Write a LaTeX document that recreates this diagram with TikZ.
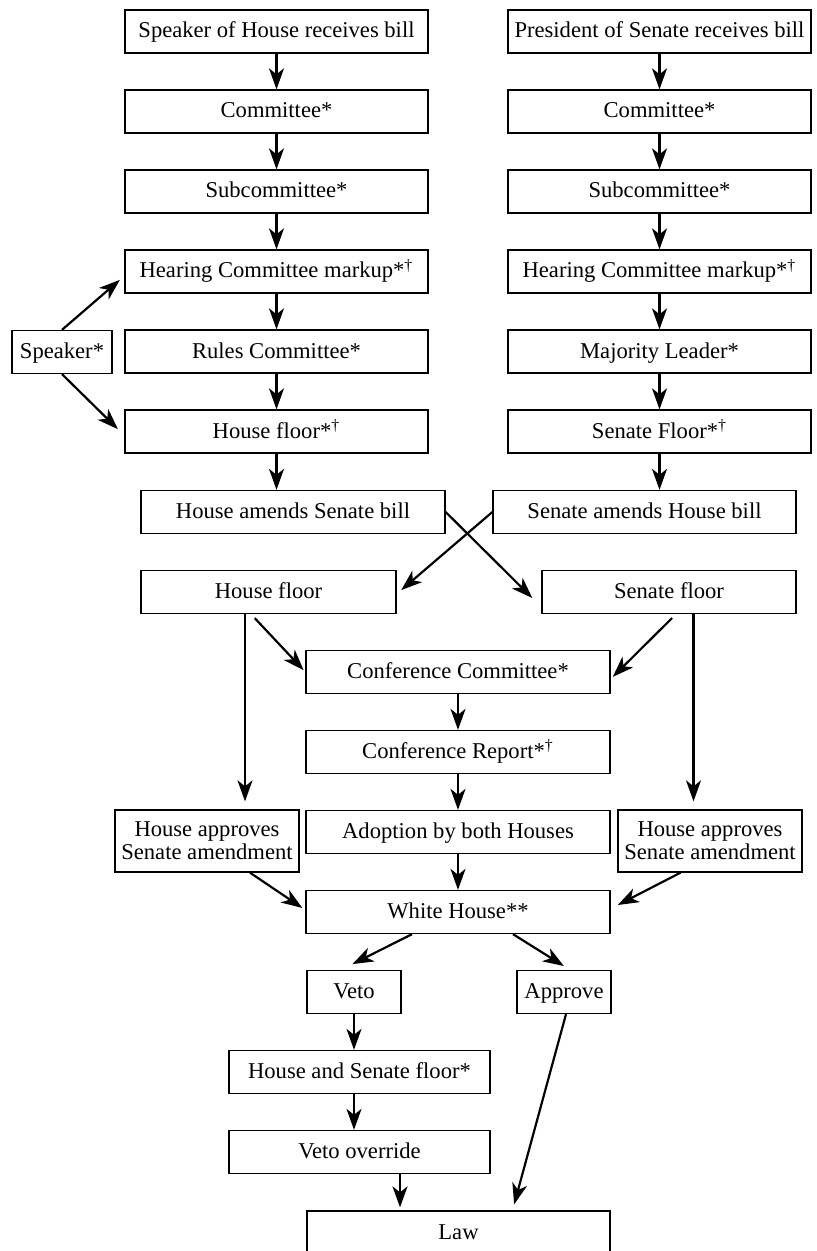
\documentclass[tikz,border=0pt]{standalone}
\usepackage{fontspec}
\setmainfont{Liberation Serif}
\usetikzlibrary{arrows.meta}

\begin{document}
\begin{tikzpicture}[x=0.5pt,y=-0.5pt,
  box/.style={draw,line width=0.65pt,minimum height=21.5pt,inner sep=0pt,
    align=center,text height=9pt,text depth=2.5pt,font=\fontsize{11.3}{11.7}\selectfont},
  twoline/.style={box,minimum width=92pt,minimum height=31pt,text height=,text depth=},
  arr/.style={-{Stealth[length=10.5pt,width=7.5pt,inset=3pt]},line width=1.1pt}]
  \useasboundingbox (0,0) rectangle (817,1251);
  \clip (0,0) rectangle (817,1251);

  % House side
  \node[box,minimum width=151.5pt] (hrecv) at (276.5,31.5) {Speaker of House receives bill};
  \node[box,minimum width=151.5pt] (hcom) at (276.5,111.5) {Committee*};
  \node[box,minimum width=151.5pt] (hsub) at (276.5,191.5) {Subcommittee*};
  \node[box,minimum width=151.5pt] (hhear) at (276.5,271.5) {Hearing Committee markup*\textsuperscript{\textdagger}};
  \node[box,minimum width=151.5pt] (hrules) at (276.5,351.5) {Rules Committee*};
  \node[box,minimum width=151.5pt] (hfloor) at (276.5,431.5) {House floor*\textsuperscript{\textdagger}};
  \node[box,minimum width=50pt] (spk) at (62,352) {Speaker*};

  % Senate side
  \node[box,minimum width=151.5pt] (srecv) at (659.5,31.5) {President of Senate receives bill};
  \node[box,minimum width=151.5pt] (scom) at (659.5,111.5) {Committee*};
  \node[box,minimum width=151.5pt] (ssub) at (659.5,191.5) {Subcommittee*};
  \node[box,minimum width=151.5pt] (shear) at (659.5,271.5) {Hearing Committee markup*\textsuperscript{\textdagger}};
  \node[box,minimum width=151.5pt] (smaj) at (659.5,351.5) {Majority Leader*};
  \node[box,minimum width=151.5pt] (sfloor) at (659.5,431.5) {Senate Floor*\textsuperscript{\textdagger}};

  % amendments
  \node[box,minimum width=152pt] (hamend) at (293,512) {House amends Senate bill};
  \node[box,minimum width=151.5pt] (samend) at (644.5,512) {Senate amends House bill};
  \node[box,minimum width=127.5pt] (hfl2) at (268.5,592) {House floor};
  \node[box,minimum width=127pt] (sfl2) at (669,592) {Senate floor};

  % conference
  \node[box,minimum width=152pt] (conf) at (458,672) {Conference Committee*};
  \node[box,minimum width=152pt] (report) at (458,752) {Conference Report*\textsuperscript{\textdagger}};
  \node[box,minimum width=152pt] (adopt) at (458,832) {Adoption by both Houses};
  \node[twoline] (happ) at (207,841) {House approves\\Senate amendment};
  \node[twoline] (sapp) at (710,841) {House approves\\Senate amendment};
  \node[box,minimum width=152pt] (wh) at (458,912) {White House**};

  % president
  \node[box,minimum width=47pt] (veto) at (354,992) {Veto};
  \node[box,minimum width=47pt] (appr) at (564,992) {Approve};
  \node[box,minimum width=130.5pt] (both) at (359.5,1072) {House and Senate floor*};
  \node[box,minimum width=130.5pt] (override) at (359.5,1152) {Veto override};
  \node[box,minimum width=151.5pt] (law) at (458.5,1232.5) {Law};

  \foreach \a/\b in {hrecv/hcom,hcom/hsub,hsub/hhear,hhear/hrules,hrules/hfloor,
    srecv/scom,scom/ssub,ssub/shear,shear/smaj,smaj/sfloor,
    conf/report,report/adopt,adopt/wh}
    \draw[arr] (\a) -- (\b);

  \draw[arr,shorten >=3pt] (spk.north) -- ([yshift=-2.25pt]hhear.west);
  \draw[arr,shorten >=4.5pt] (spk.south) -- ([yshift=-2pt]hfloor.west);

  \draw[arr] (hfloor.south) -- (hfloor.south |- hamend.north);
  \draw[arr] (sfloor.south) -- (sfloor.south |- samend.north);
  \draw[arr,shorten >=6.4pt] (hamend.east) -- ([yshift=-7.5pt]sfl2.west);
  \draw[arr,shorten >=3pt] (samend.west) -- ([yshift=-1pt]hfl2.east);

  \coordinate (hdrop) at ([xshift=-11.75pt]hfl2.south);
  \coordinate (sdrop) at ([xshift=12.25pt]sfl2.south);
  \draw[arr,shorten >=4pt] (hdrop) -- (hdrop |- happ.north);
  \draw[arr,shorten >=4pt] (sdrop) -- (sdrop |- sapp.north);
  \draw[arr,shorten <=2.75pt,shorten >=1.25pt] ([xshift=-8.75pt]hfl2.south) -- (conf.west);
  \draw[arr,shorten <=2.75pt,shorten >=1.5pt] ([xshift=3.5pt]sfl2.south) -- ([yshift=-3.5pt]conf.east);

  \draw[arr,shorten >=1.8pt] ([xshift=21.5pt]happ.south) -- ([yshift=1pt]wh.west);
  \draw[arr,shorten >=4pt] ([xshift=-14.75pt]sapp.south) -- ([yshift=1.65pt]wh.east);

  \draw[arr,shorten >=6.4pt] ([xshift=-23pt]wh.south) -- ([xshift=-6.5pt]veto.north);
  \draw[arr,shorten >=3.6pt] ([xshift=27.5pt]wh.south) -- ([xshift=3pt]appr.north);
  \draw[arr] (veto.south) -- (veto.south |- both.north);
  \draw[arr] (veto.south |- both.south) -- (veto.south |- override.north);
  \coordinate (odrop) at ([xshift=20.25pt]override.south);
  \draw[arr,shorten >=1.5pt] (odrop) -- (odrop |- law.north);
  \draw[arr,shorten >=3.1pt] ([xshift=1pt]appr.south) -- ([xshift=27pt]law.north);
\end{tikzpicture}
\end{document}
